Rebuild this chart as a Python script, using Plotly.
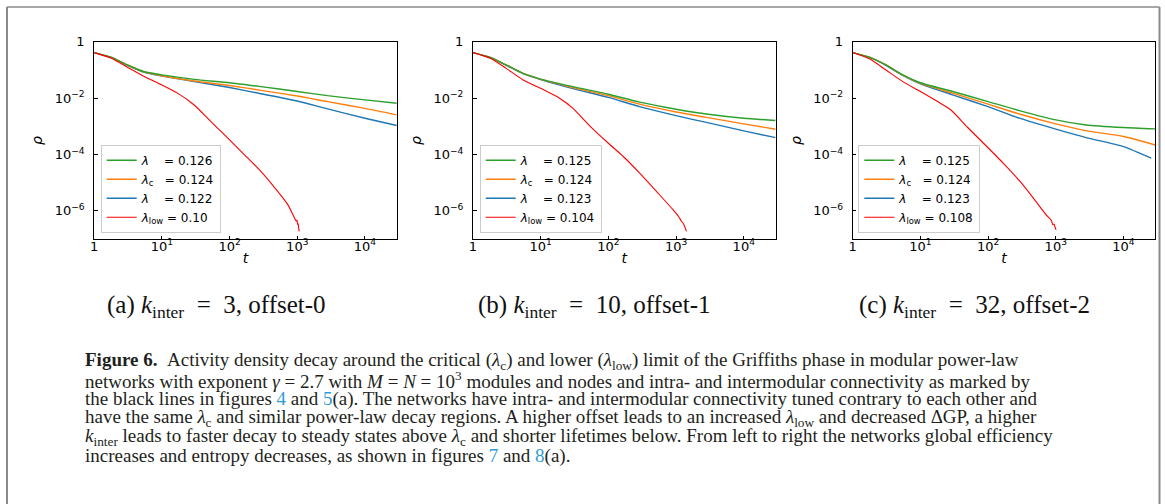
import numpy as np
import plotly.graph_objects as go

W, H = 1165, 504

# ---------------- data ----------------
# time grid for the three "lambda" curves
t_grid = [1, 1.8, 3.1, 5.5, 10, 30, 100, 290, 1000, 2800, 10000, 29500]

# log10(rho) values
# panel (a) k_inter = 3, offset-0
a_green = [-0.38, -0.55, -0.82, -1.06, -1.17, -1.33, -1.45, -1.59, -1.76, -1.91, -2.06, -2.18]
a_orange = [-0.38, -0.55, -0.82, -1.07, -1.20, -1.39, -1.55, -1.72, -1.92, -2.12, -2.36, -2.59]
a_blue = [-0.38, -0.56, -0.83, -1.08, -1.21, -1.41, -1.62, -1.84, -2.10, -2.38, -2.71, -2.97]
a_red_t = [1, 1.8, 3.1, 5.5, 10, 17, 30, 53, 100, 166, 290, 513, 724, 912, 960, 990, 1010, 1030, 1050, 1070]
a_red = [-0.38, -0.58, -0.90, -1.23, -1.53, -1.82, -2.24, -2.83, -3.48, -4.01, -4.60, -5.31, -5.78,
         -6.26, -6.36, -6.33, -6.48, -6.46, -6.62, -6.73]

# panel (b) k_inter = 10, offset-1
b_green = [-0.38, -0.55, -0.82, -1.12, -1.32, -1.59, -1.86, -2.14, -2.39, -2.56, -2.71, -2.79]
b_orange = [-0.38, -0.55, -0.82, -1.12, -1.33, -1.62, -1.91, -2.21, -2.49, -2.68, -2.91, -3.10]
b_blue = [-0.38, -0.56, -0.83, -1.13, -1.34, -1.66, -1.97, -2.30, -2.62, -2.86, -3.16, -3.40]
b_red_t = [1, 1.8, 3.1, 5.5, 10, 19, 30, 53, 100, 166, 290, 513, 900, 1100, 1200, 1280, 1350, 1420]
b_red = [-0.38, -0.58, -0.94, -1.35, -1.65, -2.00, -2.36, -2.98, -3.60, -4.07, -4.66, -5.31, -5.96,
         -6.22, -6.37, -6.45, -6.58, -6.73]

# panel (c) k_inter = 32, offset-2
c_green = [-0.38, -0.55, -0.82, -1.17, -1.45, -1.76, -2.12, -2.44, -2.77, -2.95, -3.04, -3.09]
c_orange = [-0.38, -0.55, -0.82, -1.18, -1.47, -1.82, -2.21, -2.56, -2.91, -3.15, -3.36, -3.66]
c_blue_t = [1, 1.8, 3.1, 5.5, 10, 30, 100, 290, 1000, 2800, 10000, 25700]
c_blue = [-0.38, -0.56, -0.83, -1.19, -1.49, -1.88, -2.30, -2.71, -3.10, -3.40, -3.72, -4.13]
c_red_t = [1, 1.8, 3.1, 5.5, 10, 18, 28, 50, 99, 174, 308, 484, 720, 860, 904, 940, 980, 1012]
c_red = [-0.38, -0.61, -1.00, -1.41, -1.76, -2.12, -2.41, -3.04, -3.75, -4.35, -5.00, -5.60, -6.14,
         -6.34, -6.49, -6.47, -6.60, -6.67]

legend_values = {
    "a": ["0.126", "0.124", "0.122", "0.10"],
    "b": ["0.125", "0.124", "0.123", "0.104"],
    "c": ["0.125", "0.124", "0.123", "0.108"],
}
x_ticks = [1, 10, 100, 1000, 10000]
x_ticktext = ["1", "10<sup>1</sup>", "10<sup>2</sup>", "10<sup>3</sup>", "10<sup>4</sup>"]
y_ticks = [1, 1e-2, 1e-4, 1e-6]
y_ticktext = ["1", "10<sup>\u22122</sup>", "10<sup>\u22124</sup>", "10<sup>\u22126</sup>"]

EQ = "\u2002=\u2002"
subcaptions = [
    f"(a) <i>k</i><sub>inter</sub>{EQ}3, offset-0",
    f"(b) <i>k</i><sub>inter</sub>{EQ}10, offset-1",
    f"(c) <i>k</i><sub>inter</sub>{EQ}32, offset-2",
]

LINK = "#2f9bd6"
caption_lines = [
    "<b>Figure 6.</b>\u00a0\u00a0Activity density decay around the critical (<i>λ</i><sub>c</sub>) and lower (<i>λ</i><sub>low</sub>) limit of the Griffiths phase in modular power-law",
    "networks with exponent <i>γ</i> = 2.7 with <i>M</i> = <i>N</i> = 10<sup>3</sup> modules and nodes and intra- and intermodular connectivity as marked by",
    f"the black lines in figures <span style='color:{LINK}'>4</span> and <span style='color:{LINK}'>5</span>(a). The networks have intra- and intermodular connectivity tuned contrary to each other and",
    "have the same <i>λ</i><sub>c</sub> and similar power-law decay regions. A higher offset leads to an increased <i>λ</i><sub>low</sub> and decreased ΔGP, a higher",
    "<i>k</i><sub>inter</sub> leads to faster decay to steady states above <i>λ</i><sub>c</sub> and shorter lifetimes below. From left to right the networks global efficiency",
    f"increases and entropy decreases, as shown in figures <span style='color:{LINK}'>7</span> and <span style='color:{LINK}'>8</span>(a).",
]

# ---------------- layout geometry (pixels) ----------------
ax_left = [94.2, 473.0, 852.7]
ax_w = 302.6
ax_top, ax_bottom = 41.9, 239.0
leg_left = [100.7, 479.7, 858.3]
leg_bottom = 232.7
sub_cx = [216, 594, 974]
sub_cy = 306
cap_x = 83
cap_y = [361, 380, 399, 418, 437, 456]

GREEN, ORANGE, BLUE, RED = "#2ca02c", "#ff7f0e", "#1f77b4", "#ff0000"

panels = [
    (a_green, a_orange, t_grid, a_blue, a_red_t, a_red, "a"),
    (b_green, b_orange, t_grid, b_blue, b_red_t, b_red, "b"),
    (c_green, c_orange, c_blue_t, c_blue, c_red_t, c_red, "c"),
]

NB = "\u00a0"
fig = go.Figure()
for i, (g, o, bt, b, rt, r, key) in enumerate(panels):
    sfx = "" if i == 0 else str(i + 1)
    xa, ya = "x" + sfx, "y" + sfx
    leg = "legend" + sfx
    vals = legend_values[key]
    names = [
        f"<i>λ</i>{NB * 4}= {vals[0]}",
        f"<i>λ</i><sub>c</sub>{NB * 3}= {vals[1]}",
        f"<i>λ</i>{NB * 4}= {vals[2]}",
        f"<i>λ</i><sub>low</sub> = {vals[3]}",
    ]
    series = [
        (bt, b, BLUE, names[2], 3, 1.4),
        (t_grid, o, ORANGE, names[1], 2, 1.4),
        (t_grid, g, GREEN, names[0], 1, 1.4),
        (rt, r, RED, names[3], 4, 1.1),
    ]
    for tx, ly, col, nm, rank, lw in series:
        fig.add_trace(go.Scatter(
            x=tx, y=np.power(10.0, ly), mode="lines", name=nm,
            line=dict(color=col, width=lw, shape="spline", smoothing=0.6),
            xaxis=xa, yaxis=ya, legend=leg, legendrank=rank,
        ))

layout = dict(
    width=W, height=H, margin=dict(l=0, r=0, t=0, b=0),
    paper_bgcolor="white", plot_bgcolor="white",
    font=dict(family="DejaVu Sans", color="black", size=13),
    showlegend=True,
)
for i in range(3):
    sfx = "" if i == 0 else str(i + 1)
    x0 = ax_left[i] / W
    x1 = (ax_left[i] + ax_w) / W
    axis_common = dict(
        showline=True, mirror=True, linecolor="black", linewidth=1,
        showgrid=False, zeroline=False, ticks="inside", ticklen=3.5,
        tickcolor="black", tickwidth=1, automargin=False,
        tickfont=dict(family="DejaVu Sans", size=13, color="black"),
    )
    layout["xaxis" + sfx] = dict(
        axis_common, type="log", range=[0, 4.47], domain=[x0, x1],
        anchor="y" + sfx, tickvals=x_ticks, ticktext=x_ticktext,
        ticklabelstandoff=-5,
        title=dict(text="<i>t</i>", font=dict(size=14), standoff=0),
    )
    layout["yaxis" + sfx] = dict(
        axis_common, type="log", range=[-7, 0],
        domain=[1 - ax_bottom / H, 1 - ax_top / H],
        anchor="x" + sfx, tickvals=y_ticks, ticktext=y_ticktext,
        ticklabelstandoff=6,
        title=dict(text="<i>ρ</i>", font=dict(size=14), standoff=8),
    )
    layout["legend" + sfx] = dict(
        x=leg_left[i] / W, y=1 - leg_bottom / H, xanchor="left", yanchor="bottom",
        bgcolor="rgba(255,255,255,0.8)", bordercolor="#cccccc", borderwidth=1,
        font=dict(family="DejaVu Sans", size=12, color="black"),
        itemwidth=30, tracegroupgap=0,
    )

annotations = []
for i, txt in enumerate(subcaptions):
    annotations.append(dict(
        text=txt, x=sub_cx[i] / W, y=1 - sub_cy / H, xref="paper", yref="paper",
        xanchor="center", yanchor="middle", showarrow=False,
        font=dict(family="Liberation Serif", size=25, color="#111111"),
    ))
for j, line in enumerate(caption_lines):
    annotations.append(dict(
        text=line, x=cap_x / W, y=1 - cap_y[j] / H, xref="paper", yref="paper",
        xanchor="left", yanchor="middle", showarrow=False, align="left",
        font=dict(family="Liberation Serif", size=19, color="#231f20"),
    ))
layout["annotations"] = annotations

border = "#8a8a8a"
layout["shapes"] = [
    dict(type="line", xref="paper", yref="paper", x0=7 / W, x1=1159.5 / W,
         y0=1 - 7 / H, y1=1 - 7 / H, line=dict(color=border, width=1.5)),
    dict(type="line", xref="paper", yref="paper", x0=7 / W, x1=7 / W,
         y0=1 - 7 / H, y1=0, line=dict(color=border, width=2)),
    dict(type="line", xref="paper", yref="paper", x0=1159.5 / W, x1=1159.5 / W,
         y0=1 - 7 / H, y1=0, line=dict(color=border, width=2)),
]

fig.update_layout(**layout)
fig.write_html("out.html")
